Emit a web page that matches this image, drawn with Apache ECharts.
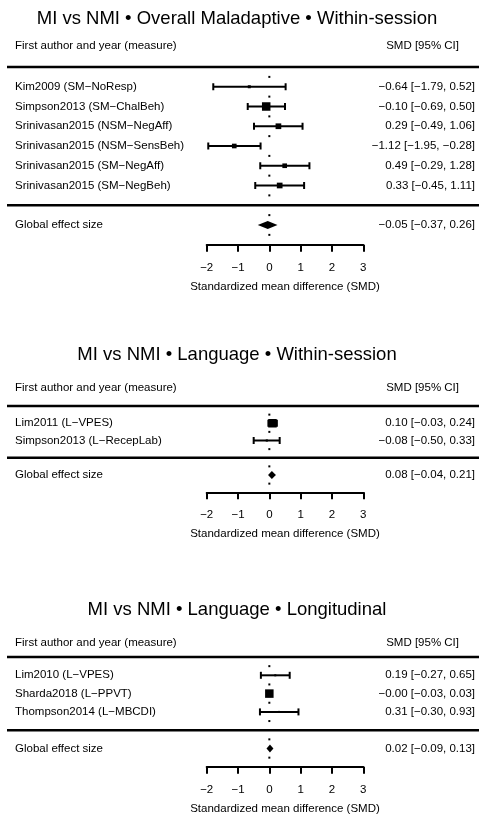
<!DOCTYPE html>
<html>
<head>
<meta charset="utf-8">
<script src="https://cdn.jsdelivr.net/npm/echarts@6/dist/echarts.min.js"></script>
<style>
  html, body { margin: 0; padding: 0; background: #fff; }
  #chart { width: 479px; height: 818px; }
</style>
</head>
<body>
<div id="chart"></div>
<script>
const FONT = '"Liberation Sans", Arial, Helvetica, sans-serif';

// ---- data -------------------------------------------------------------
const titles = [
  'MI vs NMI • Overall Maladaptive • Within-session',
  'MI vs NMI • Language • Within-session',
  'MI vs NMI • Language • Longitudinal'
];

// Overall maladaptive, within-session
const studiesA = [
  'Kim2009 (SM−NoResp)',
  'Simpson2013 (SM−ChalBeh)',
  'Srinivasan2015 (NSM−NegAff)',
  'Srinivasan2015 (NSM−SensBeh)',
  'Srinivasan2015 (SM−NegAff)',
  'Srinivasan2015 (SM−NegBeh)'
];
const smdA   = [-0.64, -0.10, 0.29, -1.12, 0.49, 0.33];
const lowerA = [-1.79, -0.69, -0.49, -1.95, -0.29, -0.45];
const upperA = [0.52, 0.50, 1.06, -0.28, 1.28, 1.11];
const weightA = [5, 40, 18, 12, 12, 18];
const pooledA = [-0.05, -0.37, 0.26];

// Language, within-session
const studiesB = [
  'Lim2011 (L−VPES)',
  'Simpson2013 (L−RecepLab)'
];
const smdB   = [0.10, -0.08];
const lowerB = [-0.03, -0.50];
const upperB = [0.24, 0.33];
const weightB = [94, 6];
const pooledB = [0.08, -0.04, 0.21];

// Language, longitudinal
const studiesC = [
  'Lim2010 (L−VPES)',
  'Sharda2018 (L−PPVT)',
  'Thompson2014 (L−MBCDI)'
];
const smdC   = [0.19, -0.00, 0.31];
const lowerC = [-0.27, -0.03, -0.30];
const upperC = [0.65, 0.03, 0.93];
const weightC = [3, 95, 2];
const pooledC = [0.02, -0.09, 0.13];

const xTicks = [-2, -1, 0, 1, 2, 3];
const headerLeft = 'First author and year (measure)';
const headerRight = 'SMD [95% CI]';
const pooledLabel = 'Global effect size';
const axisTitle = 'Standardized mean difference (SMD)';

// ---- layout -----------------------------------------------------------
const panels = [
  { studies: studiesA, smd: smdA, lo: lowerA, hi: upperA, w: weightA, pooled: pooledA,
    titleY: 17, headerY: 46, top: 67, step: 19.75 },
  { studies: studiesB, smd: smdB, lo: lowerB, hi: upperB, w: weightB, pooled: pooledB,
    titleY: 353, headerY: 388, top: 406, step: 17.25 },
  { studies: studiesC, smd: smdC, lo: lowerC, hi: upperC, w: weightC, pooled: pooledC,
    titleY: 608, headerY: 643, top: 657, step: 18.3 }
];
const PLOT_LEFT = 206.7;
const PLOT_WIDTH = 156.6;
const LABEL_X = 15;
const VALUE_X = 475;
const HEADER_RIGHT_X = 459;
const RULE_X0 = 7;
const BODY_SIZE = 11.5;
const TITLE_SIZE = 18.5;
const MAX_BOX = 8.5;

const minus = v => (v < 0 || Object.is(v, -0)) ? '\u2212' + Math.abs(v).toFixed(2) : v.toFixed(2);
const ciText = (m, lo, hi) => `${minus(m)} [${minus(lo)}, ${minus(hi)}]`;
const textStyle = (text, align) => ({
  text, fill: '#000', fontSize: BODY_SIZE, fontFamily: FONT,
  align, verticalAlign: 'middle'
});
const ink = { stroke: '#000', lineWidth: 2, lineCap: 'butt' };

const option = {
  animation: false,
  backgroundColor: '#fff',
  title: [], grid: [], xAxis: [], yAxis: [], series: [], graphic: []
};

panels.forEach((p, i) => {
  const n = p.studies.length;
  const maxW = Math.max(...p.w);

  option.title.push({
    text: titles[i], left: 237, textAlign: 'center', top: p.titleY - 8, padding: 0,
    textStyle: { fontFamily: FONT, fontSize: TITLE_SIZE, fontWeight: 'normal', color: '#000' }
  });

  option.graphic.push(
    { type: 'text', x: LABEL_X, y: p.headerY, style: textStyle(headerLeft, 'left') },
    { type: 'text', x: HEADER_RIGHT_X, y: p.headerY, style: textStyle(headerRight, 'right') }
  );

  option.grid.push({
    left: PLOT_LEFT, width: PLOT_WIDTH, top: p.top, height: (n + 3) * p.step
  });

  option.xAxis.push({
    type: 'value', gridIndex: i, min: xTicks[0], max: xTicks[xTicks.length - 1], interval: 1,
    position: 'bottom',
    axisLine: { show: true, onZero: false, lineStyle: { color: '#000', width: 2 } },
    axisTick: { show: true, inside: false, length: 7, lineStyle: { color: '#000', width: 2 } },
    axisLabel: { color: '#000', fontSize: BODY_SIZE, fontFamily: FONT, margin: 17,
      formatter: v => (v < 0 ? '\u2212' + Math.abs(v) : String(v)) },
    splitLine: { show: false },
    name: axisTitle, nameLocation: 'middle', nameGap: 36,
    nameTextStyle: { color: '#000', fontSize: BODY_SIZE, fontFamily: FONT }
  });

  option.yAxis.push({
    type: 'value', gridIndex: i, min: -1, max: n + 2, inverse: true, show: false
  });

  // dotted reference line at SMD = 0: one dot per row gap
  const dots = [];
  for (let k = -1; k <= n + 1; k++) dots.push([0, k + 0.5]);
  option.series.push({
    type: 'custom', xAxisIndex: i, yAxisIndex: i, clip: false, z: 1,
    data: dots,
    renderItem: (params, api) => {
      const [x, y] = api.coord([api.value(0), api.value(1)]);
      return { type: 'rect', shape: { x: x - 1, y: y - 1, width: 2, height: 2 }, style: { fill: '#000' } };
    }
  });

  // heavy rules above the studies and above the pooled estimate
  option.series.push({
    type: 'custom', xAxisIndex: i, yAxisIndex: i, clip: false, z: 2,
    data: [[0, -1], [0, n]],
    renderItem: (params, api) => {
      const y = api.coord([0, api.value(1)])[1];
      return { type: 'line', shape: { x1: RULE_X0, y1: y, x2: api.getWidth(), y2: y },
        style: { stroke: '#000', lineWidth: 2.5 } };
    }
  });

  // individual study estimates with confidence intervals
  option.series.push({
    type: 'custom', xAxisIndex: i, yAxisIndex: i, clip: false, z: 3,
    data: p.smd.map((m, r) => [m, p.lo[r], p.hi[r], r, p.w[r]]),
    renderItem: (params, api) => {
      const m = api.value(0), lo = api.value(1), hi = api.value(2), row = api.value(3), w = api.value(4);
      const [xm, y] = api.coord([m, row]);
      const xl = api.coord([lo, row])[0];
      const xh = api.coord([hi, row])[0];
      const s = Math.max(2, MAX_BOX * Math.sqrt(w / maxW));
      return {
        type: 'group',
        children: [
          { type: 'line', shape: { x1: xl, y1: y, x2: xh, y2: y }, style: ink },
          { type: 'line', shape: { x1: xl, y1: y - 3.5, x2: xl, y2: y + 3.5 }, style: ink },
          { type: 'line', shape: { x1: xh, y1: y - 3.5, x2: xh, y2: y + 3.5 }, style: ink },
          { type: 'rect', shape: { x: xm - s / 2, y: y - s / 2, width: s, height: s }, style: { fill: '#000' } },
          { type: 'text', x: LABEL_X, y, style: textStyle(p.studies[params.dataIndex], 'left') },
          { type: 'text', x: VALUE_X, y, style: textStyle(ciText(m, lo, hi), 'right') }
        ]
      };
    }
  });

  // pooled estimate (diamond)
  option.series.push({
    type: 'custom', xAxisIndex: i, yAxisIndex: i, clip: false, z: 3,
    data: [[p.pooled[0], p.pooled[1], p.pooled[2], n + 1]],
    renderItem: (params, api) => {
      const m = api.value(0), lo = api.value(1), hi = api.value(2), row = api.value(3);
      const [xm, y] = api.coord([m, row]);
      const xl = api.coord([lo, row])[0];
      const xh = api.coord([hi, row])[0];
      return {
        type: 'group',
        children: [
          { type: 'polygon', shape: { points: [[xl, y], [xm, y - 4], [xh, y], [xm, y + 4]] }, style: { fill: '#000' } },
          { type: 'text', x: LABEL_X, y, style: textStyle(pooledLabel, 'left') },
          { type: 'text', x: VALUE_X, y, style: textStyle(ciText(m, lo, hi), 'right') }
        ]
      };
    }
  });
});

const chart = echarts.init(document.getElementById('chart'), null, { renderer: 'canvas' });
chart.setOption(option);
</script>
</body>
</html>
